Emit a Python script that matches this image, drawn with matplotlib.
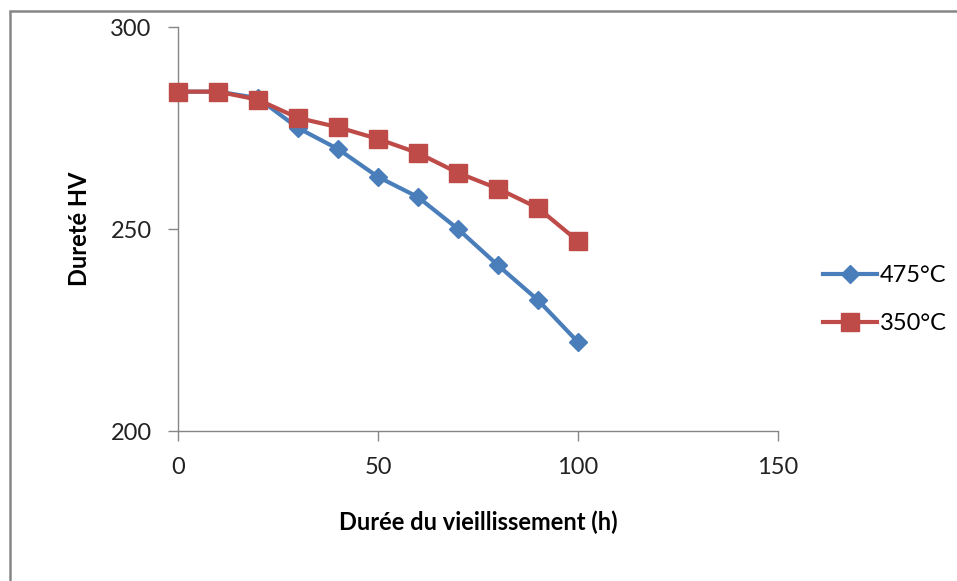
import matplotlib
matplotlib.use("Agg")
import matplotlib.pyplot as plt
from matplotlib.patches import Rectangle

# ================= DATA =================

duree = [0, 10, 20, 30, 40, 50, 60, 70, 80, 90, 100]

durete_475 = [284, 284, 282.4, 275, 269.8, 262.9, 257.9, 250, 241, 232.4, 222]
durete_350 = [284, 284, 282, 277.5, 275.2, 272.3, 268.8, 263.9, 260, 255.2, 247]

labels = ["475°C", "350°C"]

# ================= STYLE =================

plt.rcParams["font.family"] = ["Lato", "DejaVu Sans"]

blue = "#4a7ebb"
red = "#be4b48"
grey = "#868686"

# ================= FIGURE =================

fig = plt.figure(figsize=(9.57, 5.81), dpi=100)

# outer frame (chart area border)
fig.patches.append(
    Rectangle(
        (10 / 957, -0.1), 1.2, 1 - 11 / 581 + 0.1,
        transform=fig.transFigure,
        fill=False, edgecolor=grey, linewidth=1.8
    )
)

ax = fig.add_axes([178 / 957, 1 - 431 / 581, 600 / 957, 404 / 581])

ax.plot(
    duree, durete_475,
    color=blue, linewidth=3,
    marker="D", markersize=9,
    label=labels[0], clip_on=False, zorder=3
)

ax.plot(
    duree, durete_350,
    color=red, linewidth=3,
    marker="s", markersize=13,
    label=labels[1], clip_on=False, zorder=4
)

ax.set_xlim(0, 150)
ax.set_ylim(200, 300)
ax.set_xticks([0, 50, 100, 150])
ax.set_yticks([200, 250, 300])

for side in ["top", "right"]:
    ax.spines[side].set_visible(False)
for side in ["left", "bottom"]:
    ax.spines[side].set_color(grey)
    ax.spines[side].set_linewidth(1)

ax.tick_params(
    axis="both", direction="out", length=7, width=1,
    color=grey, labelsize=17, labelcolor="#222222"
)
ax.tick_params(axis="x", pad=12)
ax.tick_params(axis="y", pad=12)

ax.set_xlabel(
    "Durée du vieillissement (h)",
    fontsize=17, fontweight="bold", labelpad=23
)
ax.set_ylabel(
    "Dureté HV",
    fontsize=17, fontweight="bold", labelpad=14
)

ax.legend(
    loc="center left",
    bbox_to_anchor=(1.075, 0.325),
    frameon=False,
    fontsize=17,
    borderpad=0,
    borderaxespad=0,
    handlelength=2.3,
    handletextpad=0.1,
    labelspacing=1.15
)

# ================= SAVE =================

fig.savefig("out.png", dpi=100)

print("Saved out.png")
